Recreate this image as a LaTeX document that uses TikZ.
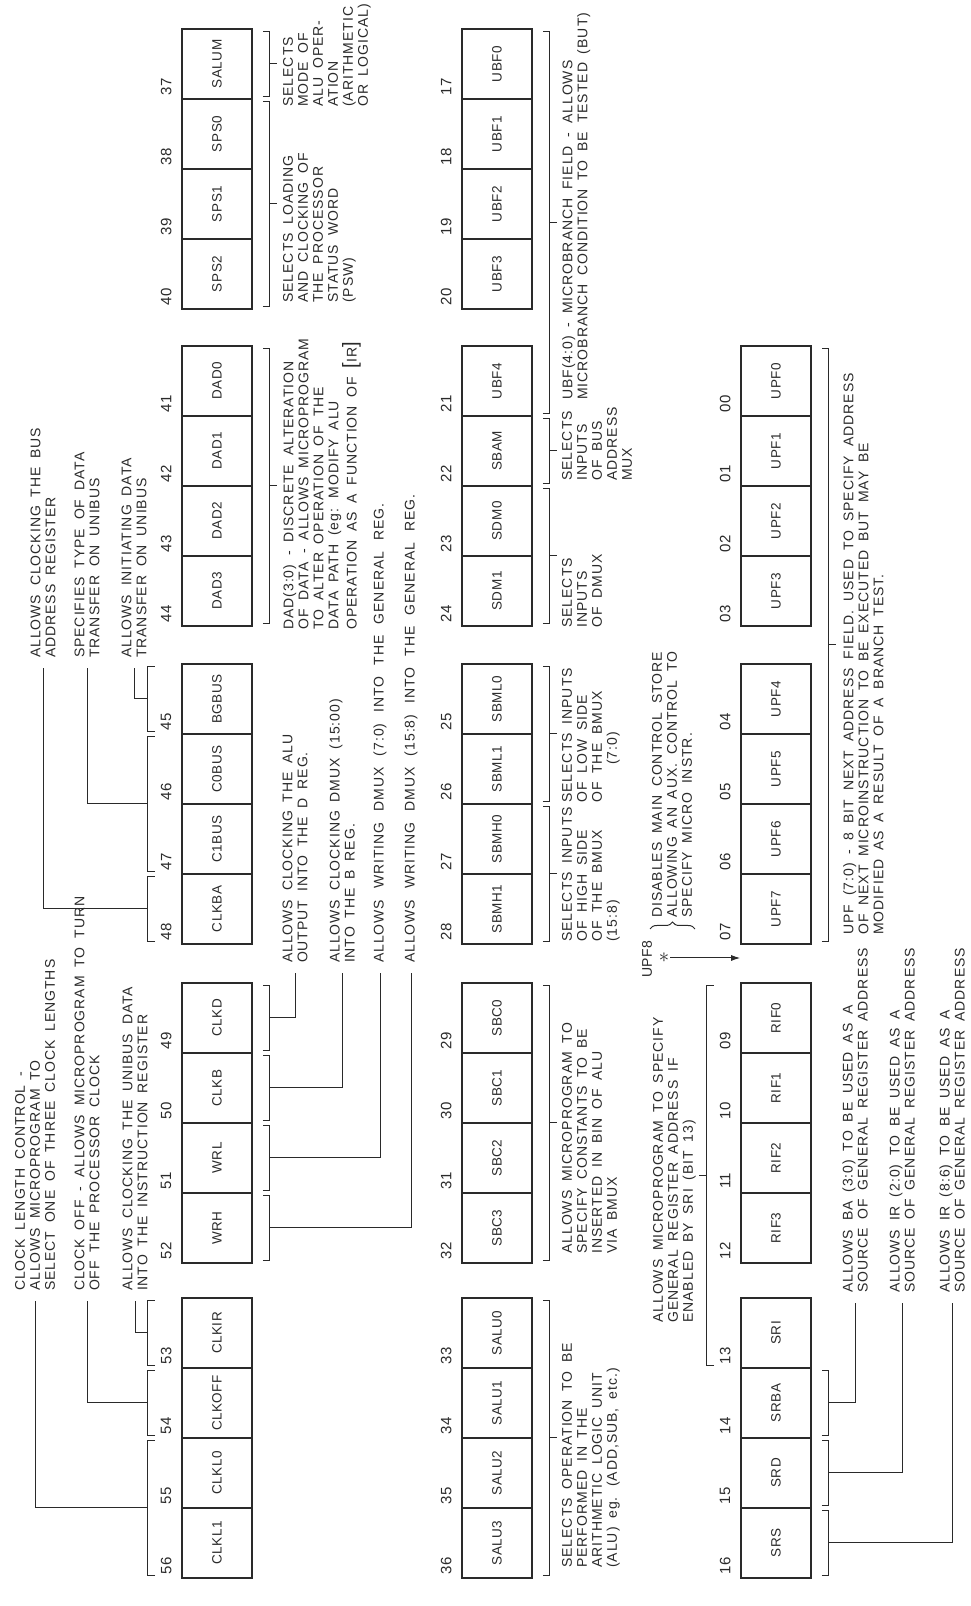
\documentclass[tikz,border=0pt]{standalone}
\usepackage{fontspec}
\usepackage{tikz}
\usetikzlibrary{calc,arrows.meta,decorations.pathreplacing}
\newfontfamily\notefont{Liberation Sans}[LetterSpace=7,WordSpace=1.8]
\newfontfamily\cellfont{Liberation Sans}[LetterSpace=4]
\definecolor{ink}{HTML}{2A2A2A}

% bracket on the right (below) of cells #1..#2, mid point named #3
\newcommand{\fbelow}[3]{%
  \draw[brk] ([shift={(10,3)}]#1.south west) -- ++(7,0) coordinate (#3a)
    -- ([shift={(17,-3)}]#2.south east) coordinate (#3b) -- ++(-7,0);
  \coordinate (#3) at ($(#3a)!.5!(#3b)$);}
% bracket on the left (above) of cells #1..#2
\newcommand{\fabove}[3]{%
  \draw[brk] ([shift={(-26,3)}]#1.north west) -- ++(-8,0) coordinate (#3a)
    -- ([shift={(-34,-3)}]#2.north east) coordinate (#3b) -- ++(8,0);
  \coordinate (#3) at ($(#3a)!.5!(#3b)$);}
\newcommand{\bigbr}[1]{{\fontsize{20}{15}\selectfont[}#1{\fontsize{20}{15}\selectfont]}}
\newcommand{\widesp}[1]{\spaceskip=#1\relax}

\begin{document}
\begin{tikzpicture}[x=1pt, y=1pt,
    cell/.style={draw=ink, line width=1.7pt, rotate=90, minimum width=70pt, minimum height=70pt, inner sep=0pt, text=ink, font=\cellfont\fontsize{13.5}{14}\selectfont},
    bitno/.style={rotate=90, inner sep=0pt, text=ink, font=\cellfont\fontsize{15}{16}\selectfont},
    note/.style={rotate=90, align=left, inner sep=0pt, text=ink, font=\notefont\fontsize{14}{15}\selectfont},
    lead/.style={note, outer sep=10pt},
    brk/.style={draw=ink, line width=1pt}
]
\fill[white] (0,0) rectangle (971,1606);
\useasboundingbox (0,0) rectangle (971,1606);

% row 1: bits 56..37
\foreach \lab [count=\i from 0] in {CLKL1,CLKL0,CLKOFF,CLKIR,WRH,WRL,CLKB,CLKD,CLKBA,C1BUS,C0BUS,BGBUS,DAD3,DAD2,DAD1,DAD0,SPS2,SPS1,SPS0,SALUM} {
  \pgfmathtruncatemacro\bit{56-\i}
  \pgfmathtruncatemacro\g{\i/4}
  \pgfmathsetmacro\yy{{28,343,662,980,1297}[\g]+70*mod(\i,4)+35}
  \node[cell] (c\bit) at (217,\yy) {\lab};
  \node[bitno] (n\bit) at ($(c\bit.north west)+(-15,13)$) {\bit};
}
% row 2: bits 36..17
\foreach \lab [count=\i from 0] in {SALU3,SALU2,SALU1,SALU0,SBC3,SBC2,SBC1,SBC0,SBMH1,SBMH0,SBML1,SBML0,SDM1,SDM0,SBAM,UBF4,UBF3,UBF2,UBF1,UBF0} {
  \pgfmathtruncatemacro\bit{36-\i}
  \pgfmathtruncatemacro\g{\i/4}
  \pgfmathsetmacro\yy{{28,343,662,980,1297}[\g]+70*mod(\i,4)+35}
  \node[cell] (c\bit) at (497,\yy) {\lab};
  \node[bitno] (n\bit) at ($(c\bit.north west)+(-15,13)$) {\bit};
}
% row 3: bits 16..09, 07..00
\foreach \lab [count=\i from 0] in {SRS,SRD,SRBA,SRI,RIF3,RIF2,RIF1,RIF0,UPF7,UPF6,UPF5,UPF4,UPF3,UPF2,UPF1,UPF0} {
  \pgfmathtruncatemacro\bit{\i<8 ? 16-\i : 15-\i}
  \pgfmathtruncatemacro\g{\i/4}
  \pgfmathsetmacro\yy{{28,343,662,980}[\g]+70*mod(\i,4)+35}
  \node[cell] (c\bit) at (776,\yy) {\lab};
  \node[bitno] (n\bit) at ($(c\bit.north west)+(-15,13)$) {\ifnum\bit<10 0\fi\bit};
}

% brackets
\fabove{c56}{c55}{bk56}
\fabove{c54}{c54}{bk54}
\fabove{c53}{c53}{bk53}
\foreach \b in {52,51,50,49} {\fbelow{c\b}{c\b}{bk\b}}
\fabove{c48}{c48}{bk48}
\fabove{c47}{c46}{bk47}
\fabove{c45}{c45}{bk45}
\fbelow{c44}{c41}{bk44}
\fbelow{c40}{c38}{bk40}
\fbelow{c37}{c37}{bk37}
\fbelow{c36}{c33}{bk36}
\fbelow{c32}{c29}{bk32}
\fbelow{c28}{c27}{bk28}
\fbelow{c26}{c25}{bk26}
\fbelow{c24}{c23}{bk24}
\fbelow{c22}{c22}{bk22}
\fbelow{c21}{c17}{bk21}
\foreach \b in {16,15,14} {\fbelow{c\b}{c\b}{bk\b}}
\fabove{c13}{c9}{bk13}
\fbelow{c7}{c0}{bk7}
\foreach \b in {bk44,bk40,bk37,bk36,bk32,bk28,bk26,bk24,bk22,bk21,bk7} {\draw[brk] (\b) -- ++(7,0);}
\draw[brk] (bk13) -- ++(-7,0);

% row 1 notes
\node[lead, anchor=west] (tclklen) at (35,305) {CLOCK LENGTH CONTROL -\\ALLOWS MICROPROGRAM TO\\SELECT ONE OF THREE CLOCK LENGTHS};
\node[lead, anchor=west] (tclkoff) at (87,305) {CLOCK OFF - ALLOWS MICROPROGRAM TO TURN\\OFF THE PROCESSOR CLOCK};
\node[lead, anchor=west] (tclkir) at (135,305) {ALLOWS CLOCKING THE UNIBUS DATA\\INTO THE INSTRUCTION REGISTER};
\node[lead, anchor=west] (tclkd) at (295,633) {ALLOWS CLOCKING THE ALU\\OUTPUT INTO THE D REG.};
\node[lead, anchor=west] (tclkb) at (342,633) {ALLOWS CLOCKING DMUX (15:00)\\INTO THE B REG.};
\node[lead, anchor=west] (twrl) at (380,633) {\widesp{11pt}ALLOWS WRITING DMUX (7:0) INTO THE GENERAL REG.};
\node[lead, anchor=west] (twrh) at (411,633) {\widesp{11pt}ALLOWS WRITING DMUX (15:8) INTO THE GENERAL REG.};
\node[lead, anchor=west] (tclkba) at (43,938) {ALLOWS CLOCKING THE BUS\\ADDRESS REGISTER};
\node[lead, anchor=west] (tbus) at (87,938) {SPECIFIES TYPE OF DATA\\TRANSFER ON UNIBUS};
\node[lead, anchor=west] (tbgbus) at (134,938) {ALLOWS INITIATING DATA\\TRANSFER ON UNIBUS};
\node[note, anchor=north west] (tdad) at (283,976) {DAD(3:0) - DISCRETE ALTERATION\\OF DATA - ALLOWS MICROPROGRAM\\TO ALTER OPERATION OF THE\\DATA PATH (eg: MODIFY ALU\\OPERATION AS A FUNCTION OF \bigbr{IR}};
\node[note, anchor=north west] (tsps) at (283,1303) {SELECTS LOADING\\AND CLOCKING OF\\THE PROCESSOR\\STATUS WORD\\(PSW)};
\node[note, anchor=north west] (tsalum) at (283,1499) {SELECTS\\MODE OF\\ALU OPER-\\ATION\\(ARITHMETIC\\OR LOGICAL)};

% row 2 notes
\node[note, anchor=north west] (tsalu) at (562,38) {SELECTS OPERATION TO BE\\PERFORMED IN THE\\ARITHMETIC LOGIC UNIT\\(ALU) eg. (ADD,SUB, etc.)};
\node[note, anchor=north west] (tsbc) at (562,352) {ALLOWS MICROPROGRAM TO\\SPECIFY CONSTANTS TO BE\\INSERTED IN BIN OF ALU\\VIA BMUX};
\node[note, anchor=north west] (tsbmh) at (562,664) {SELECTS INPUTS\\OF HIGH SIDE\\OF THE BMUX\\(15:8)};
\node[note, anchor=north west] (tsbml) at (562,803) {SELECTS INPUTS\\OF LOW SIDE\\OF THE BMUX\\ \hspace*{38pt}(7:0)};
\node[note, anchor=north west] (tsdm) at (562,978) {SELECTS\\INPUTS\\OF DMUX};
\node[note, anchor=north west] (tsbam) at (562,1125) {SELECTS\\INPUTS\\OF BUS\\ADDRESS\\MUX};
\node[note, anchor=north west] (tubf) at (562,1206) {UBF(4:0) - MICROBRANCH FIELD - ALLOWS\\MICROBRANCH CONDITION TO BE TESTED (BUT)};

% row 3 notes
\node[note, anchor=south west] (tsri) at (696,283) {ALLOWS MICROPROGRAM TO SPECIFY\\GENERAL REGISTER ADDRESS IF\\ENABLED BY SRI (BIT 13)};
\node[lead, anchor=west] (tsrba) at (855,303) {ALLOWS BA (3:0) TO BE USED AS A\\SOURCE OF GENERAL REGISTER ADDRESS};
\node[lead, anchor=west] (tsrd) at (902,303) {ALLOWS IR (2:0) TO BE USED AS A\\SOURCE OF GENERAL REGISTER ADDRESS};
\node[lead, anchor=west] (tsrs) at (952,303) {ALLOWS IR (8:6) TO BE USED AS A\\SOURCE OF GENERAL REGISTER ADDRESS};
\node[note, anchor=west] (tupfnote) at (672,688) {DISABLES MAIN CONTROL STORE\\ALLOWING AN AUX. CONTROL TO\\SPECIFY MICRO INSTR.};
\node[note, anchor=north west] (tupf) at (843,671) {\widesp{9pt}UPF (7:0) - 8 BIT NEXT ADDRESS FIELD. USED TO SPECIFY ADDRESS\\OF NEXT MICROINSTRUCTION TO BE EXECUTED BUT MAY BE\\MODIFIED AS A RESULT OF A BRANCH TEST.};

% UPF8 input
\node[bitno, font=\cellfont\fontsize{14}{14}\selectfont] (upf8) at (647,647) {UPF8};
\node[inner sep=1pt, text=ink, font=\fontsize{22}{22}\selectfont] (star) at (664,648) {$\ast$};
\coordinate (upfin) at (c7.north west |- star);
\draw[brk, -{Latex[length=9pt,width=6pt]}] (star) -- (upfin);
\draw[brk, decorate, decoration={brace, amplitude=7pt}] (650,677) -- (695,677);

% leaders
\draw[brk] (bk56) -| (tclklen.west);
\draw[brk] (bk54) -| (tclkoff.west);
\draw[brk] (bk53) -| (tclkir.west);
\draw[brk] (bk52) -| (twrh.west);
\draw[brk] (bk51) -| (twrl.west);
\draw[brk] (bk50) -| (tclkb.west);
\draw[brk] (bk49) -| (tclkd.west);
\draw[brk] (bk48) -| (tclkba.west);
\draw[brk] (bk47) -| (tbus.west);
\draw[brk] (bk45) -| (tbgbus.west);
\draw[brk] (bk14) -| (tsrba.west);
\draw[brk] (bk15) -| (tsrd.west);
\draw[brk] (bk16) -| (tsrs.west);
\end{tikzpicture}
\end{document}
